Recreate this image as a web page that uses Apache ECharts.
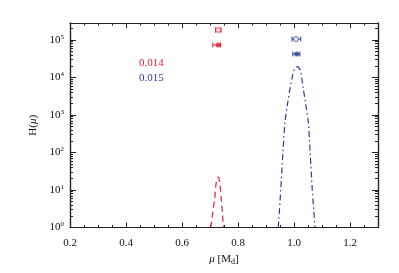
<!DOCTYPE html>
<html>
<head>
<meta charset="utf-8">
<script src="https://cdn.jsdelivr.net/npm/echarts@6/dist/echarts.min.js"></script>
<style>html,body{margin:0;padding:0;background:#fff}#c{width:399px;height:273px}</style>
</head>
<body>
<div id="c"></div>
<script>
// ---- data ----
var redCurve = [[0.703,1],[0.710,2.6],[0.717,6],[0.721,13.5],[0.725,19],[0.730,22],[0.733,19],[0.736,13.5],[0.740,6],[0.744,2.6],[0.748,1]];
var blueCurve = [[0.944,1],[0.953,11],[0.960,90],[0.968,665],[0.977,2000],[0.986,5150],[0.992,8800],[0.998,14300],[1.005,18000],[1.012,19500],[1.018,18000],[1.024,14300],[1.029,8400],[1.033,5150],[1.042,1900],[1.051,665],[1.058,90],[1.065,11],[1.075,1]];
// [x, y, xLow, xHigh]
var redOpen = [[0.7296,185000,0.720,0.739]];
var redFilled = [[0.7296,73600,0.710,0.738]];
var blueOpen = [[1.0071,106000,0.993,1.024]];
var blueFilled = [[1.0096,42300,0.996,1.021]];
var xTicks = [0.2,0.4,0.6,0.8,1.0,1.2];
var yDecades = [1,10,100,1000,10000,100000];
var minorMultipliers = [2,3,4,5,6,7,8,9];
var labelRed = '0.014';
var labelBlue = '0.015';

var RED = '#ee1c2e', BLUE = '#2c3e9a';
var FONT = '"Liberation Serif", "Times New Roman", serif';

var minorVals = [];
yDecades.forEach(function(d){ minorMultipliers.forEach(function(m){ if (d*m < 2.84e5) minorVals.push(d*m); }); });

var YMIN = 1, YMAX = 2.84e5;

function errRender(color){
  return function(params, api){
    var y = api.value(1);
    var p1 = api.coord([api.value(2), y]);
    var p2 = api.coord([api.value(3), y]);
    var st = {stroke: color, lineWidth: 1};
    return {type:'group', children:[
      {type:'line', shape:{x1:p1[0],y1:p1[1],x2:p2[0],y2:p2[1]}, style:st},
      {type:'line', shape:{x1:p1[0],y1:p1[1]-2.5,x2:p1[0],y2:p1[1]+2.5}, style:st},
      {type:'line', shape:{x1:p2[0],y1:p2[1]-2.5,x2:p2[0],y2:p2[1]+2.5}, style:st}
    ]};
  };
}

function yAxisBase(pos){
  return {type:'log', logBase:10, min:YMIN, max:YMAX, position:pos, gridIndex:0,
    axisLine:{show:true, lineStyle:{color:'#222', width:1.2}}, splitLine:{show:false}};
}

var chart = echarts.init(document.getElementById('c'), null, {renderer:'canvas'});
chart.setOption({
  animation:false,
  grid:{left:70, right:21, top:23, bottom:45.5},
  textStyle:{fontFamily:FONT},
  xAxis:[
    {type:'value', min:0.2, max:1.3, interval:0.2, position:'bottom',
      axisLine:{lineStyle:{color:'#222', width:1.2}},
      axisTick:{inside:true, length:5, lineStyle:{color:'#222'}},
      minorTick:{show:true, splitNumber:4, length:2.5, lineStyle:{color:'#222'}},
      axisLabel:{color:'#111', fontFamily:FONT, fontSize:11, margin:10,
        customValues: xTicks,
        formatter:function(v){ return v.toFixed(1); }},
      splitLine:{show:false},
      name:'{i|μ} [M{s|d}]', nameLocation:'middle', nameGap:26,
      nameTextStyle:{rich:{i:{fontStyle:'italic', fontFamily:FONT, fontSize:11, color:'#111'},
        s:{fontFamily:FONT, fontSize:8, verticalAlign:'bottom', padding:[4,0,0,0], color:'#111'}},
        fontFamily:FONT, fontSize:11, color:'#111'}
    },
    {type:'value', min:0.2, max:1.3, interval:0.2, position:'top',
      axisLine:{lineStyle:{color:'#222', width:1.2}},
      axisTick:{inside:true, length:5, lineStyle:{color:'#222'}},
      minorTick:{show:true, splitNumber:4, length:2.5, lineStyle:{color:'#222'}},
      axisLabel:{show:false}, splitLine:{show:false}}
  ],
  yAxis:[
    Object.assign(yAxisBase('left'), {
      axisTick:{inside:true, length:6, customValues: yDecades, lineStyle:{color:'#222'}},
      axisLabel:{customValues: yDecades, margin:6, fontFamily:FONT, fontSize:11, color:'#111',
        formatter:function(v){ var e = Math.round(Math.log10(v)); return '{b|10}{s|' + e + '}'; },
        rich:{b:{fontFamily:FONT, fontSize:11, color:'#111'},
              s:{fontFamily:FONT, fontSize:7, color:'#111', verticalAlign:'top', padding:[0,0,6,0]}}},
      name:'H({i|μ})', nameLocation:'middle', nameGap:28, nameRotate:90,
      nameTextStyle:{fontFamily:FONT, fontSize:11, color:'#111',
        rich:{i:{fontStyle:'italic', fontFamily:FONT, fontSize:11, color:'#111'}}}
    }),
    Object.assign(yAxisBase('left'), {
      axisTick:{inside:true, length:3, customValues: minorVals, lineStyle:{color:'#222'}},
      axisLabel:{show:false}}),
    Object.assign(yAxisBase('right'), {
      axisTick:{inside:true, length:6, customValues: yDecades, lineStyle:{color:'#222'}},
      axisLabel:{show:false}}),
    Object.assign(yAxisBase('right'), {
      axisTick:{inside:true, length:3, customValues: minorVals, lineStyle:{color:'#222'}},
      axisLabel:{show:false}})
  ],
  graphic:[
    {type:'text', left:139, top:58, style:{text:labelRed, fill:RED, font:'11px "Liberation Serif", serif'}},
    {type:'text', left:139, top:73, style:{text:labelBlue, fill:BLUE, font:'11px "Liberation Serif", serif'}}
  ],
  series:[
    {type:'line', data:redCurve, smooth:0.3, showSymbol:false, clip:true,
      lineStyle:{color:RED, width:1.2, type:[6,4]}},
    {type:'line', data:blueCurve, smooth:0.3, showSymbol:false, clip:true,
      lineStyle:{color:BLUE, width:1.2, type:[6,3,1.5,3]}},
    {type:'custom', data:redOpen, renderItem:errRender(RED), z:3},
    {type:'custom', data:redFilled, renderItem:errRender(RED), z:3},
    {type:'custom', data:blueOpen, renderItem:errRender(BLUE), z:3},
    {type:'custom', data:blueFilled, renderItem:errRender(BLUE), z:3},
    {type:'scatter', data:redOpen.map(function(d){return [d[0],d[1]];}), symbol:'rect', symbolSize:[5,4],
      itemStyle:{color:'#fff', borderColor:RED, borderWidth:1}, z:4},
    {type:'scatter', data:redFilled.map(function(d){return [d[0],d[1]];}), symbol:'circle', symbolSize:5,
      itemStyle:{color:RED}, z:4},
    {type:'scatter', data:blueOpen.map(function(d){return [d[0],d[1]];}), symbol:'circle', symbolSize:5,
      itemStyle:{color:'#fff', borderColor:BLUE, borderWidth:1}, z:4},
    {type:'scatter', data:blueFilled.map(function(d){return [d[0],d[1]];}), symbol:'circle', symbolSize:5,
      itemStyle:{color:BLUE}, z:4}
  ]
});
</script>
</body>
</html>
